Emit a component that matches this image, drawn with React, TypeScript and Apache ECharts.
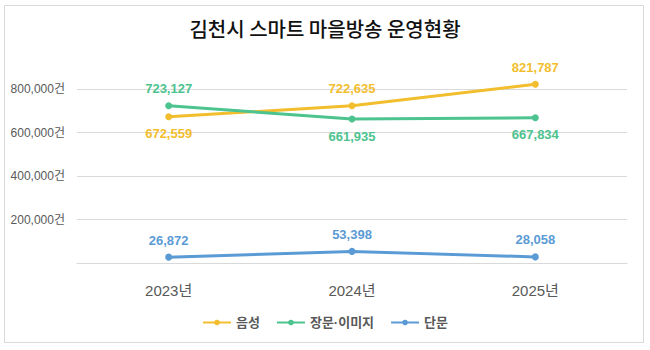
import React, { useEffect, useRef } from "react";
import * as echarts from "echarts";

const categories = ["2023년", "2024년", "2025년"];
const voice = [672559, 722635, 821787];
const longText = [723127, 661935, 667834];
const shortText = [26872, 53398, 28058];
const yTicks = [0, 200000, 400000, 600000, 800000];

const FONT = "'Liberation Sans', 'Noto Sans CJK KR', sans-serif";
const TITLE_FONT = "'Noto Sans CJK KR', sans-serif";

export default function App() {
  const ref = useRef<HTMLDivElement>(null);
  useEffect(() => {
    if (!ref.current) return;
    const chart = echarts.init(ref.current, null, { renderer: "svg" });
    const fmt = (v: number) => v.toLocaleString("en-US");
    const mkSeries = (name: string, data: number[], color: string, positions: string[]) => ({
      name,
      type: "line",
      data: data.map((v, i) => ({
        value: v,
        label: { position: positions[i] },
      })),
      color,
      clip: false,
      symbol: "circle",
      symbolSize: 7,
      lineStyle: { width: 3, color },
      itemStyle: { color },
      label: {
        show: true,
        distance: 7,
        color,
        fontFamily: FONT,
        fontSize: 13,
        fontWeight: "bold",
        formatter: (p: any) => fmt(p.value),
      },
    });
    chart.setOption({
      animation: false,
      backgroundColor: "#fff",
      title: {
        text: "김천시 스마트 마을방송 운영현황",
        left: "center",
        top: 13,
        textStyle: { fontFamily: TITLE_FONT, fontSize: 20, fontWeight: 500, color: "#111" },
      },
      graphic: [
        {
          type: "rect",
          shape: { x: 4.5, y: 5.5, width: 639, height: 337 },
          style: { fill: "none", stroke: "#d9d9d9", lineWidth: 1 },
          silent: true,
        },
      ],
      legend: {
        bottom: 16,
        left: "center",
        itemWidth: 28,
        itemHeight: 7,
        itemGap: 16,
        textStyle: { fontFamily: FONT, fontSize: 13, fontWeight: "bold", color: "#595959" },
        data: ["음성", "장문·이미지", "단문"],
      },
      grid: { left: 77, right: 23, top: 89, bottom: 87 },
      xAxis: {
        type: "category",
        data: categories,
        axisTick: { show: false },
        axisLine: { show: true, lineStyle: { color: "#d9d9d9" } },
        axisLabel: { margin: 20, fontFamily: FONT, fontSize: 15, color: "#595959" },
      },
      yAxis: {
        type: "value",
        min: yTicks[0],
        max: yTicks[yTicks.length - 1],
        interval: 200000,
        axisLine: { show: false },
        axisTick: { show: false },
        splitLine: { lineStyle: { color: "#d9d9d9" } },
        axisLabel: {
          margin: 12,
          fontFamily: FONT,
          fontSize: 12,
          color: "#595959",
          formatter: (v: number) => (v === 0 ? "" : fmt(v) + "건"),
        },
      },
      series: [
        mkSeries("음성", voice, "#F2BE2E", ["bottom", "top", "top"]),
        mkSeries("장문·이미지", longText, "#4DC38F", ["top", "bottom", "bottom"]),
        mkSeries("단문", shortText, "#5B9BD5", ["top", "top", "top"]),
      ],
    });
    return () => chart.dispose();
  }, []);
  return (
    <div
      ref={ref}
      style={{ position: "absolute", left: 0, top: 0, width: 650, height: 350 }}
    />
  );
}
